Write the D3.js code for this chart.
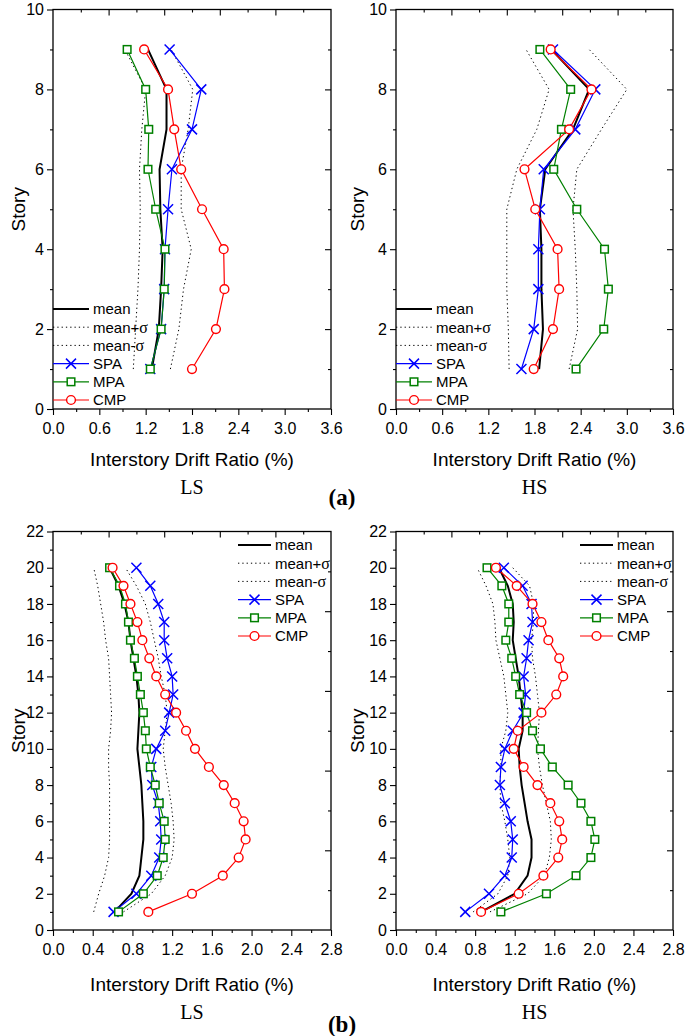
<!DOCTYPE html>
<html><head><meta charset="utf-8">
<script src="https://cdn.jsdelivr.net/npm/d3@7"></script>
<style>body{margin:0;background:#fff}svg{display:block}</style>
</head><body>
<script>
// ---------- data ----------
const storiesA = [1,2,3,4,5,6,7,8,9];
const storiesB = [1,2,3,4,5,6,7,8,9,10,11,12,13,14,15,16,17,18,19,20];

const aLS_mean  = [1.28,1.37,1.40,1.42,1.39,1.38,1.47,1.47,1.23];
const aLS_plus  = [1.52,1.63,1.69,1.79,1.66,1.66,1.75,1.81,1.53];
const aLS_minus = [1.04,1.07,1.10,1.12,1.13,1.12,1.15,1.20,0.93];
const aLS_SPA   = [1.26,1.40,1.44,1.45,1.49,1.54,1.80,1.92,1.51];
const aLS_MPA   = [1.26,1.40,1.44,1.45,1.33,1.23,1.24,1.20,0.96];
const aLS_CMP   = [1.80,2.11,2.22,2.21,1.93,1.66,1.57,1.49,1.18];

const aHS_mean  = [1.86,1.91,1.89,1.89,1.87,1.94,2.30,2.51,2.02];
const aHS_plus  = [2.25,2.36,2.35,2.33,2.30,2.35,2.67,3.00,2.51];
const aHS_minus = [1.47,1.46,1.44,1.44,1.44,1.57,1.83,1.99,1.69];
const aHS_SPA   = [1.63,1.79,1.85,1.85,1.87,1.92,2.33,2.59,2.04];
const aHS_MPA   = [2.34,2.70,2.76,2.71,2.35,2.05,2.15,2.27,1.87];
const aHS_CMP   = [1.79,2.04,2.12,2.10,1.81,1.67,2.25,2.54,2.01];

const bLS_mean  = [0.62,0.79,0.87,0.89,0.91,0.91,0.90,0.89,0.87,0.85,0.86,0.87,0.86,0.84,0.81,0.78,0.76,0.72,0.66,0.57];
const bLS_plus  = [0.71,0.99,1.13,1.20,1.22,1.21,1.19,1.16,1.13,1.11,1.13,1.15,1.13,1.09,1.06,1.02,0.98,0.93,0.84,0.73];
const bLS_minus = [0.41,0.46,0.52,0.56,0.57,0.57,0.57,0.57,0.56,0.56,0.58,0.59,0.58,0.57,0.56,0.53,0.51,0.48,0.45,0.41];
const bLS_SPA   = [0.61,0.84,0.99,1.07,1.09,1.08,1.06,1.00,0.99,1.04,1.13,1.17,1.21,1.20,1.15,1.12,1.12,1.06,0.98,0.84];
const bLS_MPA   = [0.66,0.91,1.05,1.11,1.13,1.12,1.07,1.03,0.98,0.94,0.93,0.91,0.88,0.85,0.82,0.78,0.76,0.73,0.67,0.57];
const bLS_CMP   = [0.96,1.40,1.71,1.87,1.94,1.92,1.83,1.72,1.57,1.43,1.34,1.24,1.13,1.04,0.97,0.90,0.85,0.78,0.71,0.60];

const bHS_mean  = [0.86,1.20,1.33,1.37,1.37,1.33,1.30,1.27,1.25,1.24,1.28,1.28,1.26,1.24,1.21,1.18,1.19,1.18,1.13,1.04];
const bHS_plus  = [0.95,1.33,1.50,1.55,1.57,1.56,1.52,1.48,1.45,1.43,1.44,1.45,1.43,1.41,1.38,1.37,1.39,1.39,1.35,1.18];
const bHS_minus = [0.78,1.03,1.13,1.15,1.13,1.10,1.06,1.05,1.06,1.06,1.11,1.13,1.11,1.09,1.05,1.01,1.00,0.98,0.91,0.82];
const bHS_SPA   = [0.70,0.94,1.10,1.17,1.18,1.16,1.10,1.05,1.06,1.10,1.18,1.29,1.31,1.29,1.32,1.34,1.38,1.37,1.28,1.09];
const bHS_MPA   = [1.06,1.52,1.82,1.97,2.01,1.97,1.87,1.74,1.58,1.46,1.38,1.32,1.25,1.21,1.17,1.11,1.14,1.14,1.07,0.92];
const bHS_CMP   = [0.86,1.24,1.49,1.64,1.68,1.65,1.56,1.43,1.29,1.19,1.23,1.47,1.62,1.69,1.65,1.54,1.47,1.38,1.22,1.01];

const xTicksA = [0,0.6,1.2,1.8,2.4,3.0,3.6];
const xTicksB = [0,0.4,0.8,1.2,1.6,2.0,2.4,2.8];
const yTicksA = [0,2,4,6,8,10];
const yTicksB = [0,2,4,6,8,10,12,14,16,18,20,22];
const legendNames = ["mean","mean+σ","mean-σ","SPA","MPA","CMP"];
const subLabels = ["LS","HS"];
const xTitle = "Interstory Drift Ratio (%)";
const yTitle = "Story";

// ---------- drawing ----------
const W = 685, H = 1036;
const svg = d3.select("body").append("svg").attr("width", W).attr("height", H);
const SANS = "'Liberation Sans', Arial, sans-serif";
const SERIF = "'Liberation Serif', 'Times New Roman', serif";

const COL = {SPA:"#0000ff", MPA:"#008000", CMP:"#ff0000"};

function marker(g, type, x, y) {
  if (type === "SPA") {
    const s = 5;
    g.append("path").attr("d", `M${x-s},${y-s}L${x+s},${y+s}M${x-s},${y+s}L${x+s},${y-s}`)
      .attr("stroke", COL.SPA).attr("stroke-width", 1.5).attr("fill", "none");
  } else if (type === "MPA") {
    const s = 3.8;
    g.append("rect").attr("x", x-s).attr("y", y-s).attr("width", 2*s).attr("height", 2*s)
      .attr("fill", "#fff").attr("stroke", COL.MPA).attr("stroke-width", 1.5);
  } else {
    g.append("circle").attr("cx", x).attr("cy", y).attr("r", 4.4)
      .attr("fill", "#fff").attr("stroke", COL.CMP).attr("stroke-width", 1.4);
  }
}

const panels = [
  {x0:53, x1:331, yb:409, yt:9.5, xmax:3.6, ymax:10, xt:xTicksA, yt_:yTicksA, st:storiesA,
   d:{mean:aLS_mean, plus:aLS_plus, minus:aLS_minus, SPA:aLS_SPA, MPA:aLS_MPA, CMP:aLS_CMP},
   sub:0, leg:{x:53, y:309, len:36}, ytitleX:18, titleY:466, subY:494},
  {x0:396, x1:673, yb:409, yt:9.5, xmax:3.6, ymax:10, xt:xTicksA, yt_:yTicksA, st:storiesA,
   d:{mean:aHS_mean, plus:aHS_plus, minus:aHS_minus, SPA:aHS_SPA, MPA:aHS_MPA, CMP:aHS_CMP},
   sub:1, leg:{x:396, y:309, len:36}, ytitleX:357, titleY:466, subY:494},
  {x0:53, x1:331, yb:930, yt:531.5, xmax:2.8, ymax:22, xt:xTicksB, yt_:yTicksB, st:storiesB,
   d:{mean:bLS_mean, plus:bLS_plus, minus:bLS_minus, SPA:bLS_SPA, MPA:bLS_MPA, CMP:bLS_CMP},
   sub:0, leg:{x:238, y:545, len:33}, ytitleX:18, titleY:991, subY:1019},
  {x0:396, x1:673, yb:930, yt:531.5, xmax:2.8, ymax:22, xt:xTicksB, yt_:yTicksB, st:storiesB,
   d:{mean:bHS_mean, plus:bHS_plus, minus:bHS_minus, SPA:bHS_SPA, MPA:bHS_MPA, CMP:bHS_CMP},
   sub:1, leg:{x:580, y:545, len:33}, ytitleX:357, titleY:991, subY:1019}
];

panels.forEach(p => {
  const x = d3.scaleLinear().domain([0, p.xmax]).range([p.x0, p.x1]);
  const y = d3.scaleLinear().domain([0, p.ymax]).range([p.yb, p.yt]);
  const g = svg.append("g");

  const xStep = p.xt[1] - p.xt[0];
  const xMinor = p.xt.slice(0, -1).map(v => v + xStep / 2);
  const yMinor = p.yt_.slice(0, -1).map(v => v + 1);
  const topVals = d3.range(1, 10).map(i => ({v: p.xmax * i / 10, major: i % 2 === 0}));
  const rightVals = d3.range(1, 10).map(i => ({v: p.ymax * i / 10, major: i % 2 === 0}));

  const fmtX = d3.format(".1f");
  const bax = g.append("g").attr("transform", `translate(0,${p.yb})`)
    .call(d3.axisBottom(x).tickValues(p.xt).tickFormat(fmtX).tickSize(6).tickSizeOuter(0));
  bax.select(".domain").remove();
  bax.selectAll("text").attr("font-family", SANS).attr("font-size", 16).attr("fill", "#000").attr("dy", "0.75em").attr("y", 13);
  g.append("g").attr("transform", `translate(0,${p.yb})`)
    .call(d3.axisBottom(x).tickValues(xMinor).tickFormat("").tickSize(3).tickSizeOuter(0))
    .select(".domain").remove();
  const lax = g.append("g").attr("transform", `translate(${p.x0},0)`)
    .call(d3.axisLeft(y).tickValues(p.yt_).tickFormat(d3.format("d")).tickSize(6).tickSizeOuter(0));
  lax.select(".domain").remove();
  lax.selectAll("text").attr("font-family", SANS).attr("font-size", 16).attr("fill", "#000").attr("x", -9);
  g.append("g").attr("transform", `translate(${p.x0},0)`)
    .call(d3.axisLeft(y).tickValues(yMinor).tickFormat("").tickSize(3).tickSizeOuter(0))
    .select(".domain").remove();
  [true, false].forEach(maj => {
    g.append("g").attr("transform", `translate(0,${p.yt})`)
      .call(d3.axisBottom(x).tickValues(topVals.filter(t => t.major === maj).map(t => t.v)).tickFormat("").tickSize(maj ? 6 : 3).tickSizeOuter(0))
      .select(".domain").remove();
    g.append("g").attr("transform", `translate(${p.x1},0)`)
      .call(d3.axisLeft(y).tickValues(rightVals.filter(t => t.major === maj).map(t => t.v)).tickFormat("").tickSize(maj ? 6 : 3).tickSizeOuter(0))
      .select(".domain").remove();
  });
  g.selectAll(".tick line").attr("stroke", "#000").attr("stroke-width", 1.1);

  g.append("rect").attr("x", p.x0).attr("y", p.yt).attr("width", p.x1 - p.x0).attr("height", p.yb - p.yt)
    .attr("fill", "none").attr("stroke", "#000").attr("stroke-width", 1.3);

  const pts = key => p.st.map((s, i) => [x(p.d[key][i]), y(s)]);
  const line = d3.line();

  g.append("path").attr("d", line(pts("plus"))).attr("fill", "none").attr("stroke", "#000").attr("stroke-width", 1).attr("stroke-dasharray", "1.3,3");
  g.append("path").attr("d", line(pts("minus"))).attr("fill", "none").attr("stroke", "#000").attr("stroke-width", 1).attr("stroke-dasharray", "1.3,3");
  g.append("path").attr("d", line(pts("mean"))).attr("fill", "none").attr("stroke", "#000").attr("stroke-width", 2);

  ["SPA", "MPA", "CMP"].forEach(k => {
    g.append("path").attr("d", line(pts(k))).attr("fill", "none").attr("stroke", COL[k]).attr("stroke-width", 1.2);
  });
  ["SPA", "MPA", "CMP"].forEach(k => {
    pts(k).forEach(([px, py]) => marker(g, k, px, py));
  });

  const L = p.leg;
  legendNames.forEach((name, i) => {
    const ly = L.y + i * 18.2;
    const lg = g.append("g");
    let stroke = "#000", sw = 1, dash = null;
    if (i === 0) sw = 2;
    if (i === 1 || i === 2) dash = "1.3,3";
    if (i >= 3) { stroke = COL[name]; sw = 1.2; }
    lg.append("line").attr("x1", L.x).attr("x2", L.x + L.len).attr("y1", ly).attr("y2", ly)
      .attr("stroke", stroke).attr("stroke-width", sw).attr("stroke-dasharray", dash);
    if (i >= 3) marker(lg, name, L.x + L.len / 2, ly);
    const t = lg.append("text").attr("x", L.x + L.len + 4).attr("y", ly).attr("dy", "0.36em")
      .attr("font-family", SANS).attr("font-size", 15);
    if (name.includes("σ")) {
      t.append("tspan").text(name.slice(0, -1));
      t.append("tspan").attr("font-family", SERIF).attr("font-size", 16).text("σ");
    } else t.text(name);
  });

  svg.append("text").attr("x", (p.x0 + p.x1) / 2).attr("y", p.titleY).attr("text-anchor", "middle")
    .attr("font-family", SANS).attr("font-size", 19).text(xTitle);
  svg.append("text").attr("x", (p.x0 + p.x1) / 2).attr("y", p.subY).attr("text-anchor", "middle")
    .attr("font-family", SERIF).attr("font-size", 20).text(subLabels[p.sub]);
  svg.append("text").attr("transform", `translate(${p.ytitleX},${(p.yb + p.yt) / 2}) rotate(-90)`)
    .attr("text-anchor", "middle").attr("dy", "0.36em")
    .attr("font-family", SANS).attr("font-size", 19).text(yTitle);
});

svg.append("text").attr("x", 342).attr("y", 505).attr("text-anchor", "middle")
  .attr("font-family", SERIF).attr("font-weight", "bold").attr("font-size", 23).text("(a)");
svg.append("text").attr("x", 342).attr("y", 1032).attr("text-anchor", "middle")
  .attr("font-family", SERIF).attr("font-weight", "bold").attr("font-size", 23).text("(b)");
</script>
</body></html>
